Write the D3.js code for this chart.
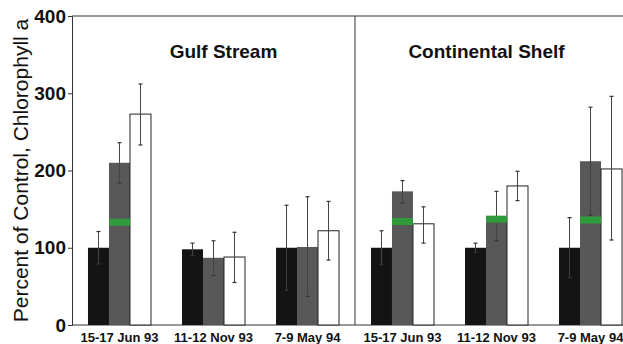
<!DOCTYPE html>
<html>
<head>
<meta charset="utf-8">
<script src="https://cdn.jsdelivr.net/npm/d3@7"></script>
<style>
  body { margin: 0; background: #fff; }
  svg { display: block; font-family: "Liberation Sans", Arial, sans-serif; }
</style>
</head>
<body>
<div id="chart"></div>
<script>
// Data
const panels = ['Gulf Stream', 'Continental Shelf'];
const dates = ['15-17 Jun 93', '11-12 Nov 93', '7-9 May 94'];
const series = ['control', 'treatA', 'treatB'];
const yTicks = [0, 100, 200, 300, 400];

// values[panel][date] = [black, gray, white]
const gulfValues = [[100, 210, 273], [98, 87, 88], [100, 101, 122]];
const shelfValues = [[100, 173, 131], [100, 140, 180], [100, 212, 202]];
// error bar tops / bottoms, same layout
const gulfHigh = [[121, 236, 312], [106, 109, 120], [155, 166, 160]];
const gulfLow = [[79, 184, 233], [90, 64, 55], [45, 37, 84]];
const shelfHigh = [[122, 187, 153], [106, 173, 199], [139, 282, 296]];
const shelfLow = [[78, 158, 106], [94, 109, 161], [61, 142, 110]];
// green marker on the gray bar
const gulfMarker = [133, null, null];
const shelfMarker = [134, 137, 136];

const values = [gulfValues, shelfValues];
const highs = [gulfHigh, shelfHigh];
const lows = [gulfLow, shelfLow];
const markers = [gulfMarker, shelfMarker];

const width = 623, height = 344;
const marginLeft = 72, plotTop = 16, plotBottom = 325;

const svg = d3.select('#chart').append('svg')
  .attr('width', width)
  .attr('height', height);

const y = d3.scaleLinear().domain([0, 400]).range([plotBottom, plotTop]);

const xPanel = d3.scaleBand()
  .domain(panels)
  .range([marginLeft, marginLeft + 566]);

const xDate = d3.scaleBand()
  .domain(dates)
  .range([0, xPanel.bandwidth()])
  .paddingInner(0.33)
  .paddingOuter(0.17);

const xSeries = d3.scaleBand()
  .domain(series)
  .range([0, xDate.bandwidth()]);

const fills = { control: '#141414', treatA: '#585858', treatB: '#ffffff' };

// frame
svg.append('line')
  .attr('x1', marginLeft).attr('x2', width)
  .attr('y1', y(400)).attr('y2', y(400))
  .attr('stroke', '#333').attr('stroke-width', 1);
svg.append('line')
  .attr('x1', marginLeft).attr('x2', width)
  .attr('y1', y(0)).attr('y2', y(0))
  .attr('stroke', '#333').attr('stroke-width', 1);
svg.append('line')
  .attr('x1', xPanel(panels[1])).attr('x2', xPanel(panels[1]))
  .attr('y1', y(400)).attr('y2', y(0))
  .attr('stroke', '#333').attr('stroke-width', 1);

panels.forEach((p, pi) => {
  const g = svg.append('g')
    .attr('transform', `translate(${xPanel(p)},0)`);

  g.append('text')
    .attr('x', xPanel.bandwidth() / 2 + (pi === 0 ? 10 : -10))
    .attr('y', 58)
    .attr('text-anchor', 'middle')
    .attr('font-size', 19)
    .attr('font-weight', 'bold')
    .attr('fill', '#111')
    .text(p);

  dates.forEach((d, di) => {
    const dg = g.append('g')
      .attr('transform', `translate(${xDate(d)},0)`);

    series.forEach((s, si) => {
      const v = values[pi][di][si];
      const bx = xSeries(s);
      const cx = bx + xSeries.bandwidth() / 2;

      dg.append('rect')
        .attr('x', bx)
        .attr('y', y(v))
        .attr('width', xSeries.bandwidth())
        .attr('height', y(0) - y(v))
        .attr('fill', fills[s])
        .attr('stroke', s === 'treatB' ? '#222' : 'none')
        .attr('stroke-width', 1);

      // error bar
      const hi = highs[pi][di][si], lo = lows[pi][di][si];
      dg.append('line')
        .attr('x1', cx).attr('x2', cx)
        .attr('y1', y(hi)).attr('y2', y(lo))
        .attr('stroke', '#444').attr('stroke-width', 1);
      [hi, lo].forEach(e => {
        dg.append('line')
          .attr('x1', cx - 2).attr('x2', cx + 2)
          .attr('y1', y(e)).attr('y2', y(e))
          .attr('stroke', '#333').attr('stroke-width', 1.2);
      });
    });

    const m = markers[pi][di];
    if (m !== null) {
      dg.append('rect')
        .attr('x', xSeries('treatA'))
        .attr('y', y(m) - 3.5)
        .attr('width', xSeries.bandwidth())
        .attr('height', 7)
        .attr('fill', '#2f9a3c');
    }
  });

  const xAxis = d3.axisBottom(xDate).tickSize(0).tickPadding(8);
  g.append('g')
    .attr('transform', `translate(0,${y(0)})`)
    .call(xAxis)
    .call(a => a.select('.domain').remove())
    .selectAll('text')
    .attr('font-size', 13)
    .attr('font-weight', 'bold')
    .attr('fill', '#111')
    .style('font-family', '"Liberation Sans", Arial, sans-serif');
});

// y axis
const yAxis = d3.axisLeft(y).tickValues(yTicks).tickSize(4).tickPadding(2);
svg.append('g')
  .attr('transform', `translate(${marginLeft},0)`)
  .call(yAxis)
  .call(a => a.select('.domain').attr('stroke', '#333'))
  .call(a => a.selectAll('.tick line').attr('stroke', '#333'))
  .selectAll('text')
  .attr('font-size', 19)
  .attr('font-weight', 'bold')
  .attr('fill', '#111')
  .style('font-family', '"Liberation Sans", Arial, sans-serif');

svg.append('text')
  .attr('transform', `translate(28,${(plotTop + plotBottom) / 2}) rotate(-90)`)
  .attr('text-anchor', 'middle')
  .attr('font-size', 21)
  .attr('fill', '#111')
  .text('Percent of Control, Chlorophyll a');
</script>
</body>
</html>
